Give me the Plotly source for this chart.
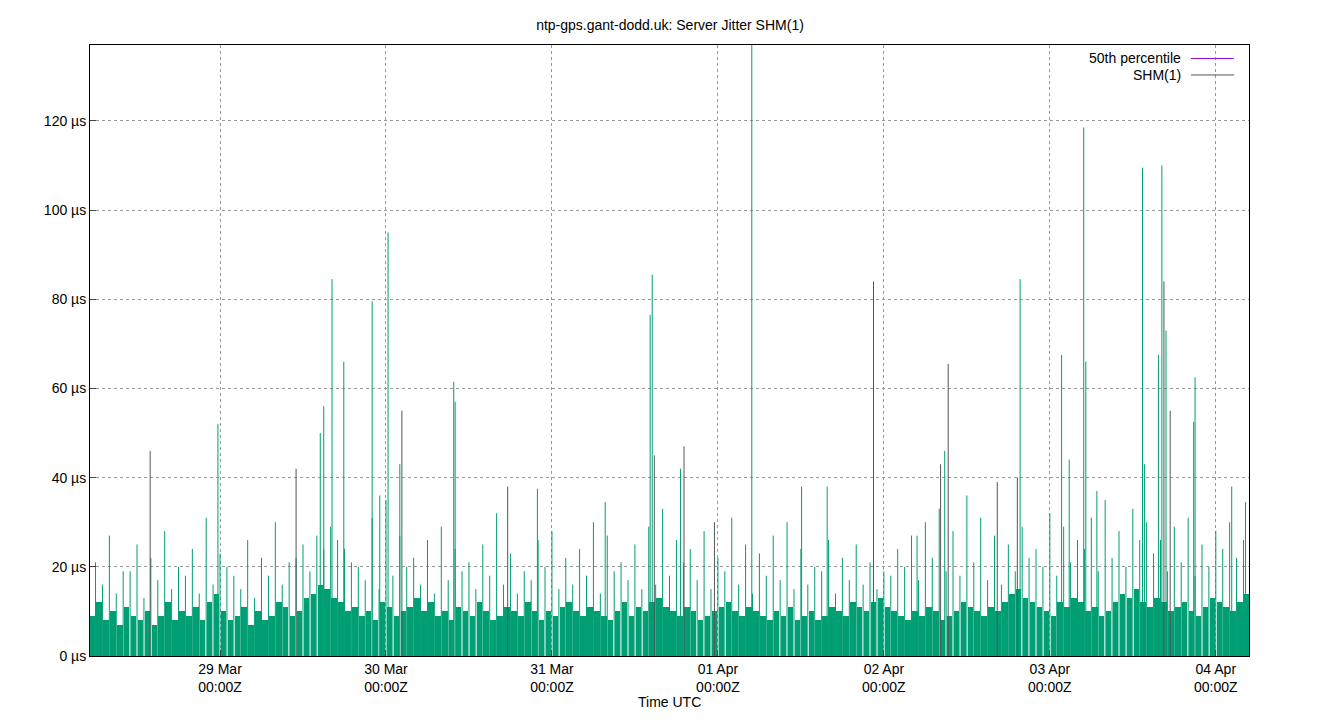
import plotly.graph_objects as go
import pandas as pd

# reference time: 29 Mar 00:00Z ; offsets in hours
REF = pd.Timestamp("2024-03-29 00:00")

# hourly background jitter level (µs), from 28 Mar 05:00 (h=-19)
base_start_h = -19
base_vals = [9, 12, 8, 10, 7, 11, 9, 8, 10, 7, 9, 12, 8, 10, 9, 11, 8, 12, 14, 10, 8, 9, 11, 7,
             10, 8, 9, 12, 11, 9, 10, 13, 14, 16, 15, 13, 12, 10, 11, 9, 10, 8, 12, 11, 9, 10, 11, 13,
             10, 12, 9, 10, 8, 11, 10, 9, 12, 10, 8, 9, 11, 10, 9, 12, 10, 8, 10, 9, 11, 12, 10, 9,
             11, 10, 9, 8, 10, 12, 9, 11, 10, 12, 13, 11, 10, 9, 11, 10, 8, 9, 10, 11, 12, 10, 9, 11,
             10, 9, 8, 10, 9, 11, 8, 9, 10, 8, 9, 11, 10, 9, 12, 11, 10, 12, 13, 11, 10, 9, 8, 10,
             9, 11, 10, 8, 9, 10, 12, 11, 10, 9, 11, 10, 12, 14, 15, 13, 12, 11, 10, 9, 12, 11, 13, 12,
             10, 11, 9, 10, 12, 14, 13, 15, 12, 11, 13, 12, 10, 11, 12, 10, 9, 11, 13, 12, 11, 10, 12, 14]

# medium spikes every 2 h starting at h=-18
mid_start_h = -18
mid_vals = [21, 27, 19, 25, 22, 28, 20, 24, 31, 23, 18, 26, 22, 30, 21, 25, 27, 29, 24, 20,
            31, 35, 27, 22, 26, 29, 24, 21, 25, 32, 23, 19, 26, 28, 22, 24, 30, 27, 21, 25,
            29, 33, 26, 24, 28, 22, 31, 25, 23, 27, 30, 24, 20, 26, 22, 25, 21, 19, 24, 27,
            30, 33, 28, 36, 31, 27, 25, 29, 24, 32, 29, 26, 31, 35, 28, 33, 30, 26, 29, 31,
            25, 28, 30, 26]

# smaller spikes every 2 h starting at h=-17
small_start_h = -17
small_vals = [16, 14, 19, 13, 17, 15, 18, 14, 16, 20, 15, 13, 18, 16, 22, 19, 24, 26, 21, 17,
              15, 18, 20, 16, 14, 17, 19, 15, 18, 16, 14, 17, 20, 15, 16, 18, 14, 19, 17, 15,
              16, 18, 21, 17, 15, 19, 16, 14, 18, 17, 15, 16, 19, 14, 17, 16, 15, 18, 20, 17,
              22, 19, 18, 21, 17, 16, 19, 22, 20, 18, 21, 24, 19, 22, 20, 26, 23, 19, 21, 18,
              20, 24, 22, 23]

# prominent spikes: hour offset, value (µs), drawn dark (1) or green (0)
spike_h = [-10.1, -0.3, 11.0, 14.5, 15.0, 16.2, 17.9, 22.0, 23.1, 24.3, 26.0, 26.3, 33.8, 34.0,
           41.6, 45.9, 55.7, 62.2, 62.5, 62.8, 66.6, 67.1, 71.5, 76.9, 84.1, 87.8, 94.5, 100.8,
           104.2, 104.8, 105.3, 112.4, 115.3, 115.7, 121.7, 122.8, 124.9, 125.2, 126.8, 133.4,
           133.7, 135.7, 136.2, 136.5, 136.8, 137.4, 140.8, 141.0, 146.3, 148.3]
spike_v = [46, 52, 42, 50, 56, 84.5, 66, 79.5, 36, 95, 43, 55, 61.5, 57,
           38, 37.5, 34.5, 76.5, 85.5, 45, 42, 47, 30, 137, 38, 38, 84, 27,
           43, 46, 65.5, 39, 40, 84.5, 67.5, 44, 118.5, 66, 37, 109.5,
           43, 67.5, 110, 84, 73, 55, 52.5, 62.5, 38, 34.5]
spike_dark = [1, 0, 1, 0, 0, 0, 0, 0, 0, 0, 0, 1, 0, 0,
              1, 0, 0, 0, 0, 1, 0, 1, 1, 0, 0, 0, 1, 0,
              1, 0, 1, 1, 1, 0, 0, 0, 0, 0, 0, 0,
              0, 0, 0, 1, 0, 1, 0, 0, 0, 0]

GREEN = "#009e73"
DARK = "#555555"

def t(h):
    return REF + pd.Timedelta(hours=h)

fig = go.Figure()
fig.add_trace(go.Bar(x=[t(base_start_h + i + 0.5) for i in range(len(base_vals))], y=base_vals,
                     width=3600e3 * 0.8, marker=dict(color=GREEN, line=dict(width=0)), showlegend=False))

def impulses(hs, vs, color):
    xs, ys = [], []
    for h, v in zip(hs, vs):
        xs += [t(h), t(h), None]
        ys += [0, v, None]
    fig.add_trace(go.Scatter(x=xs, y=ys, mode="lines", line=dict(color=color, width=1),
                             showlegend=False, hoverinfo="skip"))

impulses([mid_start_h + 2 * i for i in range(len(mid_vals))], mid_vals, GREEN)
impulses([small_start_h + 2 * i for i in range(len(small_vals))], small_vals, GREEN)
impulses([h for h, d in zip(spike_h, spike_dark) if d == 0], [v for v, d in zip(spike_v, spike_dark) if d == 0], GREEN)
impulses([h for h, d in zip(spike_h, spike_dark) if d == 1], [v for v, d in zip(spike_v, spike_dark) if d == 1], DARK)

days = [t(24 * i) for i in range(7)]
day_labels = ["29 Mar<br>00:00Z", "30 Mar<br>00:00Z", "31 Mar<br>00:00Z", "01 Apr<br>00:00Z",
              "02 Apr<br>00:00Z", "03 Apr<br>00:00Z", "04 Apr<br>00:00Z"]
ytick = [0, 20, 40, 60, 80, 100, 120]

fig.update_layout(
    width=1324, height=704, plot_bgcolor="white", paper_bgcolor="white",
    margin=dict(l=82, r=83, t=37, b=56), bargap=0,
    font=dict(family="Liberation Sans, Arial", size=14, color="black"),
    title=dict(text="ntp-gps.gant-dodd.uk: Server Jitter SHM(1)", x=0.5, y=0.983, xanchor="center",
               font=dict(size=14)),
    xaxis=dict(range=[t(-18.8), t(148.8)], tickvals=days, ticktext=day_labels, automargin=False,
               showgrid=True, gridcolor="#999", griddash="dot", gridwidth=1,
               showline=True, linecolor="black", mirror=True, ticks="inside", ticklen=6),
    yaxis=dict(range=[0, 137], tickvals=ytick, ticktext=[f"{v} µs" for v in ytick], automargin=False,
               showgrid=True, gridcolor="#999", griddash="dot", gridwidth=1, zeroline=False,
               showline=True, linecolor="black", mirror=True, ticks="inside", ticklen=6),
    annotations=[
        dict(x=0.943, y=0.978, xref="paper", yref="paper", text="50th percentile", showarrow=False,
             xanchor="right", yanchor="middle", font=dict(size=14)),
        dict(x=0.943, y=0.951, xref="paper", yref="paper", text="SHM(1)", showarrow=False,
             xanchor="right", yanchor="middle", font=dict(size=14)),
        dict(x=0.5, y=0, xref="paper", yref="paper", text="Time UTC", showarrow=False,
             xanchor="center", yanchor="middle", yshift=-46, font=dict(size=14)),
    ],
    shapes=[
        dict(type="line", xref="paper", yref="paper", x0=0.95, x1=0.987, y0=0.978, y1=0.978,
             line=dict(color="#9400d3", width=1)),
        dict(type="line", xref="paper", yref="paper", x0=0.95, x1=0.987, y0=0.951, y1=0.951,
             line=dict(color="#555555", width=1)),
    ],
)
fig.write_html("out.html")
